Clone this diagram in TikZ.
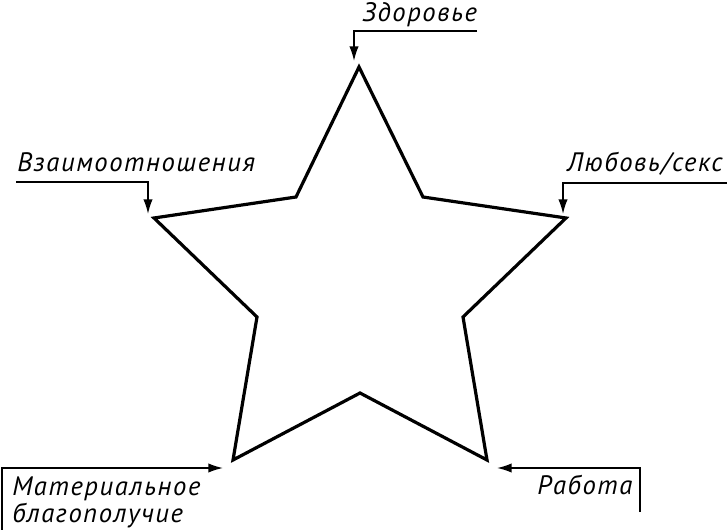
\documentclass[tikz,border=0pt]{standalone}
\usepackage{fontspec}
\setmainfont{PT Sans}
\newfontfamily\handfont[LetterSpace=6]{PT Sans}
\usetikzlibrary{arrows.meta}

\begin{document}
\begin{tikzpicture}[x=0.75pt,y=-0.75pt,
  lbl/.style={anchor=base west,inner sep=0pt,font=\handfont\fontsize{20}{24}\selectfont\itshape},
  pointer/.style={line width=1.1pt,-{Latex[length=11pt,width=7pt]}}]
  \useasboundingbox (0,0) rectangle (727,530);
  % star
  \coordinate (apex) at (359,67);
  \coordinate (innerTR) at (423,197);
  \coordinate (right) at (566,218);
  \coordinate (innerR) at (463,317);
  \coordinate (botR) at (487,460);
  \coordinate (innerB) at (360,393);
  \coordinate (botL) at (233,460);
  \coordinate (innerL) at (257,317);
  \coordinate (left) at (154,218);
  \coordinate (innerTL) at (296,197);
  \draw[line width=2.4pt,line join=miter] (apex) -- (innerTR) -- (right) -- (innerR) -- (botR)
    -- (innerB) -- (botL) -- (innerL) -- (left) -- (innerTL) -- cycle;

  \node[lbl] (health) at (362,22) {Здоровье};
  \node[lbl] (relations) at (17,172) {Взаимоотношения};
  \node[lbl] (love) at (567,172) {Любовь/секс};
  \node[lbl] (money) at (12,495) {Материальное};
  \node[lbl] (money2) at (12,522) {благополучие};
  \node[lbl] (work) at (537,494) {Работа};

  \coordinate (healthEnd) at (477,31);
  \coordinate (healthBend) at (354,31);
  \coordinate (healthTip) at (354,61);
  \coordinate (relEnd) at (16,182);
  \coordinate (relBend) at (148,182);
  \coordinate (relTip) at (148,214);
  \coordinate (loveEnd) at (727,183);
  \coordinate (loveBend) at (563,183);
  \coordinate (loveTip) at (563,214);
  \coordinate (moneyEnd) at (2,530);
  \coordinate (moneyBend) at (2,468);
  \coordinate (moneyTip) at (223,468);
  \coordinate (workEnd) at (640,512);
  \coordinate (workBend) at (640,468);
  \coordinate (workTip) at (497,468);

  \draw[pointer] (healthEnd) -- (healthBend) -- (healthTip);
  \draw[pointer] (relEnd) -- (relBend) -- (relTip);
  \draw[pointer] (loveEnd) -- (loveBend) -- (loveTip);
  \draw[pointer] (moneyEnd) -- (moneyBend) -- (moneyTip);
  \draw[pointer] (workEnd) -- (workBend) -- (workTip);
\end{tikzpicture}
\end{document}
